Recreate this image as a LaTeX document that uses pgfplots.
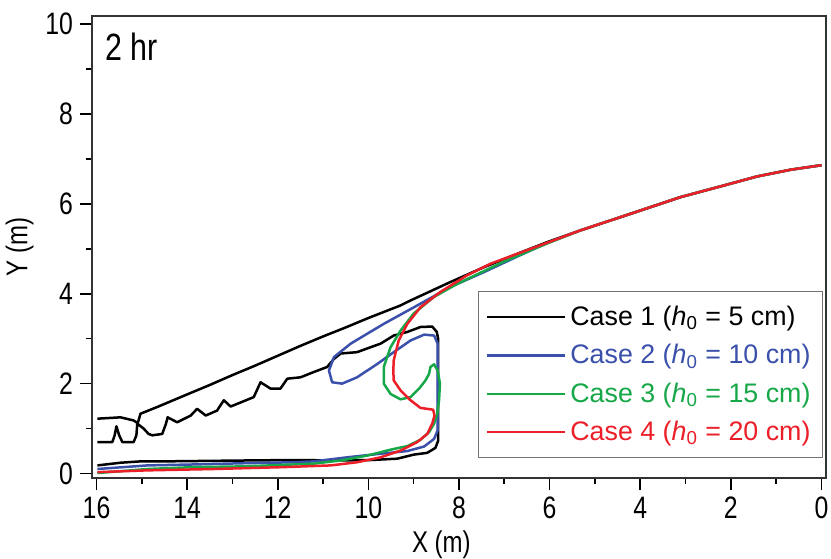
\documentclass[border=0pt]{standalone}
\usepackage{fontspec}
\setmainfont{Liberation Sans}
\newfontfamily\narrowfont{Liberation Sans}[FakeStretch=0.8]
\usepackage{pgfplots}
\pgfplotsset{compat=1.18}
\definecolor{caseblue}{RGB}{58,80,170}
\definecolor{casegreen}{RGB}{22,168,72}
\definecolor{casered}{RGB}{236,30,40}

\begin{document}
\begin{tikzpicture}
\useasboundingbox (-46pt,-40pt) rectangle (369.5pt,239pt);
\begin{axis}[
  scale only axis, width=367pt, height=231pt,
  x dir=reverse,
  xmin=-0.1, xmax=16.1, ymin=-0.1, ymax=10.18,
  xtick={0,2,...,16}, ytick={0,2,...,10},
  minor xtick={1,3,...,15}, minor ytick={1,3,5,7,9},
  tick pos=left, tick align=outside,
  major tick length=6pt, minor tick length=3pt,
  every tick/.style={black, line width=0.8pt},
  axis line style={line width=1pt, black!80},
  /pgf/number format/assume math mode=true,
  tick label style={font=\narrowfont\fontsize{15.5}{17}\selectfont},
  xlabel={X (m)}, ylabel={Y (m)},
  label style={font=\narrowfont\fontsize{15}{17}\selectfont},
  xlabel style={at={(axis description cs:0.476,0)}, anchor=north, yshift=-23pt},
  ylabel style={yshift=-1pt},
  unbounded coords=jump,
  legend style={at={(0.996,0.043)}, anchor=south east, draw=black!55,
    line width=0.6pt, font=\fontsize{13.4}{15}\selectfont,
    row sep=4pt, inner xsep=4pt, inner ysep=5pt},
  legend cell align=left,
  legend image code/.code={\draw[#1, line width=1.1pt] (0pt,0pt) -- (39pt,0pt);},
  every axis plot/.append style={line width=1.25pt, line join=round},
]
% Case 1
\addplot[black] coordinates {
  (0.00,6.86) (0.68,6.76) (1.42,6.61) (2.15,6.41) (3.11,6.15) (4.21,5.78)
  (5.32,5.41) (6.05,5.15) (6.71,4.89) (7.45,4.59) (8.19,4.26) (9.07,3.85)
  (9.29,3.74) (10.0,3.46) (10.5,3.25) (11.0,3.05) (11.5,2.84) (12.0,2.62)
  (12.5,2.40) (13.0,2.19) (13.5,1.97) (14.0,1.76) (14.66,1.48) (15.03,1.33)
  (15.09,1.12) (15.18,1.18) (15.47,1.25) (15.98,1.22)
  (nan,nan)
  (15.98,0.70) (15.65,0.70) (15.60,0.85) (15.56,1.05) (15.50,0.85) (15.43,0.70)
  (15.18,0.70) (15.12,0.85) (15.10,1.11) (14.96,1.00) (14.85,0.88) (14.77,0.85)
  (14.55,0.88) (14.47,1.10) (14.43,1.25) (14.22,1.14) (13.92,1.29)
  (13.78,1.44) (13.59,1.29) (13.34,1.40) (13.19,1.63) (13.04,1.49) (12.53,1.70)
  (12.38,2.03) (12.16,1.89) (11.94,1.89) (11.79,2.11) (11.50,2.14) (11.20,2.26)
  (10.91,2.37) (10.76,2.55) (10.61,2.67) (10.25,2.70) (9.95,2.81) (9.73,2.89)
  (9.44,3.07) (9.14,3.15) (8.85,3.26) (8.59,3.27) (8.49,3.15) (8.46,3.00)
  (8.46,0.73) (8.52,0.57) (8.70,0.46) (9.00,0.42) (9.36,0.33) (9.95,0.30)
  (10.69,0.29) (11.64,0.30) (12.69,0.29) (14.51,0.27) (15.03,0.27) (15.47,0.24)
  (15.98,0.18)
};
\addlegendentry{Case 1 (\textit{h}\textsubscript{0} = 5 cm)}
% Case 2
\addplot[caseblue] coordinates {
  (0.00,6.86) (0.68,6.76) (1.42,6.61) (2.15,6.41) (3.11,6.15) (4.21,5.78)
  (5.32,5.41) (6.05,5.13) (6.71,4.83) (7.45,4.48) (8.19,4.15) (8.92,3.74)
  (9.66,3.33) (10.39,2.89) (10.76,2.59) (10.87,2.29) (10.80,2.03) (10.58,2.00)
  (10.25,2.14) (9.80,2.44) (9.44,2.70) (9.07,2.96) (8.77,3.09) (8.55,3.07)
  (8.47,2.89) (8.47,0.96) (8.55,0.77) (8.77,0.60) (9.14,0.50) (9.73,0.44)
  (10.47,0.36) (11.20,0.27) (11.64,0.25) (12.69,0.23) (13.92,0.20) (14.88,0.18)
  (15.98,0.10)
};
\addlegendentry{\color{caseblue}Case 2 (\textit{h}\textsubscript{0} = 10 cm)}
% Case 3
\addplot[casegreen] coordinates {
  (0.00,6.86) (0.68,6.76) (1.42,6.61) (2.15,6.41) (3.11,6.15) (4.21,5.78)
  (5.32,5.41) (6.05,5.12) (7.00,4.72) (8.04,4.22) (8.55,3.93) (9.00,3.56)
  (9.29,3.18) (9.51,2.81) (9.66,2.37) (9.66,2.00) (9.51,1.77) (9.29,1.65)
  (9.07,1.70) (8.88,1.89) (8.74,2.07) (8.66,2.22) (8.63,2.37) (8.55,2.43)
  (8.47,2.29) (8.42,2.00) (8.44,1.63) (8.48,1.33) (8.55,1.11) (8.66,0.92)
  (8.85,0.75) (9.14,0.61) (9.51,0.53) (10.02,0.40) (10.61,0.29) (11.20,0.22)
  (12.69,0.16) (13.92,0.14) (14.88,0.10) (15.98,0.01)
};
\addlegendentry{\color{casegreen}Case 3 (\textit{h}\textsubscript{0} = 15 cm)}
% Case 4
\addplot[casered] coordinates {
  (0.00,6.86) (0.68,6.76) (1.42,6.61) (2.15,6.41) (3.11,6.15) (4.21,5.78)
  (5.32,5.41) (6.20,5.08) (7.30,4.67) (7.82,4.41) (8.41,4.04) (8.85,3.70)
  (9.14,3.33) (9.33,2.96) (9.44,2.52) (9.45,2.29) (9.44,2.07) (9.29,1.85)
  (9.07,1.63) (8.85,1.46) (8.57,1.42) (8.54,1.29) (8.59,1.11) (8.70,0.88)
  (8.92,0.70) (9.29,0.51) (9.73,0.36) (10.25,0.25) (10.83,0.18) (11.94,0.14)
  (13.41,0.10) (14.88,0.07) (15.98,0.03)
};
\addlegendentry{\color{casered}Case 4 (\textit{h}\textsubscript{0} = 20 cm)}
\node[anchor=north west, inner sep=0pt, font=\narrowfont\fontsize{19}{20}\selectfont]
  at (rel axis cs:0.018,0.965) {2 hr};
\end{axis}
\end{tikzpicture}
\end{document}
